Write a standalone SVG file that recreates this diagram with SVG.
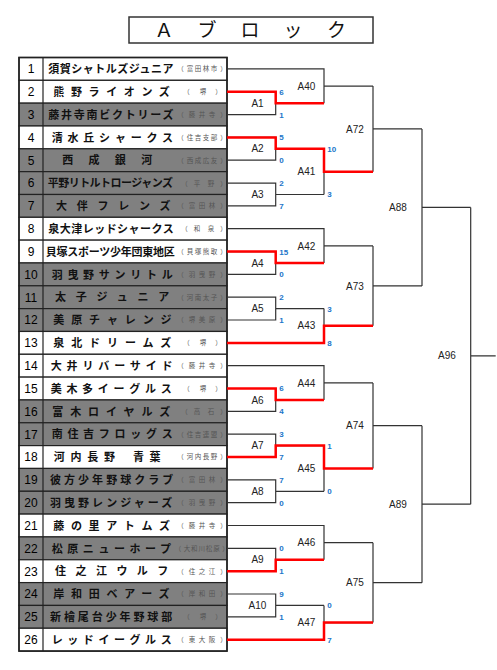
<svg xmlns="http://www.w3.org/2000/svg" width="497" height="670" viewBox="0 0 497 670">
<style>
.bg{fill:#fff}
.rw{fill:#fff;stroke:#222;stroke-width:1.2}
.rg{fill:#808080;stroke:#222;stroke-width:1.2}
.num{font-family:"Liberation Sans",Arial,sans-serif;font-size:12px;text-anchor:middle;fill:#000}
.name{font-family:"Noto Sans CJK JP","Noto Sans",sans-serif;font-size:11px;font-weight:bold;fill:#111}
.sub{font-family:"Noto Sans CJK JP","Noto Sans",sans-serif;font-size:6.5px;text-anchor:middle;fill:#555}
.lbl{font-family:"Liberation Sans",Arial,sans-serif;font-size:10px;text-anchor:middle;fill:#222}
.sc{font-family:"Liberation Sans",Arial,sans-serif;font-size:8px;font-weight:bold;fill:#1b75c9}
.ln{fill:none;stroke:#333;stroke-width:1.2}
.win{fill:none;stroke:#f00;stroke-width:2.5}
.title{font-family:"Noto Sans CJK JP","Noto Sans",sans-serif;font-size:19px;text-anchor:middle;fill:#111}
</style>
<rect class="bg" x="0" y="0" width="497" height="670"/>
<g id="title">
<rect x="129" y="17" width="244" height="26" fill="#fff" stroke="#333" stroke-width="1.5"/>
<text class="title" x="164 207 250 293 336.5" y="37">Ａブロック</text>
</g>
<g id="teams">
<g id="team-1"><rect class="rw" x="19" y="57.5" width="208" height="22.83"/><text class="num" x="31" y="73.2">1</text><text class="name" x="48.3" y="73.1" style="letter-spacing:0.5px">須賀シャトルズジュニア</text><text class="sub" x="180.4 190 198 206 214 223.6" y="71.3">（富田林市）</text></g>
<g id="team-2"><rect class="rw" x="19" y="80.33" width="208" height="22.83"/><text class="num" x="31" y="96">2</text><text class="name" x="53.3" y="95.9" style="letter-spacing:6.62px">熊野ライオンズ</text><text class="sub" x="186.4 203 218.6" y="94.1">（堺）</text></g>
<g id="team-3"><rect class="rg" x="19" y="103.16" width="208" height="22.83"/><text class="num" x="31" y="118.9">3</text><text class="name" x="48.3" y="118.8" style="letter-spacing:1.74px">藤井寺南ビクトリーズ</text><text class="sub" x="180.4 192 202 212 223.6" y="117">（藤井寺）</text></g>
<g id="team-4"><rect class="rw" x="19" y="125.99" width="208" height="22.83"/><text class="num" x="31" y="141.7">4</text><text class="name" x="51.7" y="141.6" style="letter-spacing:4.8px">清水丘シャークス</text><text class="sub" x="180.4 190 198 206 214 223.6" y="139.8">（住吉支部）</text></g>
<g id="team-5"><rect class="rg" x="19" y="148.82" width="208" height="22.83"/><text class="num" x="31" y="164.5">5</text><text class="name" x="67.7 94 120.3 146.7" y="164.4" text-anchor="middle">西成銀河</text><text class="sub" x="180.4 190 198 206 214 223.6" y="162.6">（西成広友）</text></g>
<g id="team-6"><rect class="rg" x="19" y="171.65" width="208" height="22.83"/><text class="num" x="31" y="187.4">6</text><text class="name" x="47.7" y="187.3" style="letter-spacing:-0.52px">平野リトルトロージャンズ</text><text class="sub" x="184.4 197 211 223.6" y="185.5">（平野）</text></g>
<g id="team-7"><rect class="rg" x="19" y="194.48" width="208" height="22.83"/><text class="num" x="31" y="210.2">7</text><text class="name" x="56" y="210.1" style="letter-spacing:9.74px">大伴フレンズ</text><text class="sub" x="180.4 192 202 212 223.6" y="208.3">（富田林）</text></g>
<g id="team-8"><rect class="rw" x="19" y="217.31" width="208" height="22.83"/><text class="num" x="31" y="233">8</text><text class="name" x="48.3" y="232.9" style="letter-spacing:0.47px">泉大津レッドシャークス</text><text class="sub" x="184.4 197 211 223.6" y="231.1">（和泉）</text></g>
<g id="team-9"><rect class="rw" x="19" y="240.14" width="208" height="22.83"/><text class="num" x="31" y="255.9">9</text><text class="name" x="45.7" y="255.8" style="letter-spacing:-0.25px">貝塚スポーツ少年団東地区</text><text class="sub" x="180.4 190 198 206 214 223.6" y="254">（貝塚熊取）</text></g>
<g id="team-10"><rect class="rg" x="19" y="262.97" width="208" height="22.83"/><text class="num" x="31" y="278.7">10</text><text class="name" x="51.7" y="278.6" style="letter-spacing:4.71px">羽曳野サンリトル</text><text class="sub" x="180.4 192 202 212 223.6" y="276.8">（羽曳野）</text></g>
<g id="team-11"><rect class="rg" x="19" y="285.8" width="208" height="22.83"/><text class="num" x="31" y="301.5">11</text><text class="name" x="55" y="301.4" style="letter-spacing:9.8px">太子ジュニア</text><text class="sub" x="180.4 190 198 206 214 223.6" y="299.6">（河南太子）</text></g>
<g id="team-12"><rect class="rg" x="19" y="308.63" width="208" height="22.83"/><text class="num" x="31" y="324.3">12</text><text class="name" x="53.3" y="324.2" style="letter-spacing:6.9px">美原チャレンジ</text><text class="sub" x="180.4 192 202 212 223.6" y="322.4">（堺美原）</text></g>
<g id="team-13"><rect class="rw" x="19" y="331.46" width="208" height="22.83"/><text class="num" x="31" y="347.2">13</text><text class="name" x="53.3" y="347.1" style="letter-spacing:6.9px">泉北ドリームズ</text><text class="sub" x="186.4 203 218.6" y="345.3">（堺）</text></g>
<g id="team-14"><rect class="rw" x="19" y="354.29" width="208" height="22.83"/><text class="num" x="31" y="370">14</text><text class="name" x="50.7" y="369.9" style="letter-spacing:4.86px">大井リバーサイド</text><text class="sub" x="180.4 192 202 212 223.6" y="368.1">（藤井寺）</text></g>
<g id="team-15"><rect class="rw" x="19" y="377.12" width="208" height="22.83"/><text class="num" x="31" y="392.8">15</text><text class="name" x="50.7" y="392.7" style="letter-spacing:4.71px">美木多イーグルス</text><text class="sub" x="186.4 203 218.6" y="390.9">（堺）</text></g>
<g id="team-16"><rect class="rg" x="19" y="399.95" width="208" height="22.83"/><text class="num" x="31" y="415.7">16</text><text class="name" x="52.3" y="415.6" style="letter-spacing:6.9px">富木ロイヤルズ</text><text class="sub" x="184.4 197 211 223.6" y="413.8">（高石）</text></g>
<g id="team-17"><rect class="rg" x="19" y="422.78" width="208" height="22.83"/><text class="num" x="31" y="438.5">17</text><text class="name" x="51.7" y="438.4" style="letter-spacing:4.71px">南住吉フロッグス</text><text class="sub" x="180.4 190 198 206 214 223.6" y="436.6">（住吉連盟）</text></g>
<g id="team-18"><rect class="rw" x="19" y="445.61" width="208" height="22.83"/><text class="num" x="31" y="461.3">18</text><text class="name" x="59.3 76 92.7 109.5 124 138.5 155" y="461.2" text-anchor="middle">河内長野　青葉</text><text class="sub" x="180.4 190 198 206 214 223.6" y="459.4">（河内長野）</text></g>
<g id="team-19"><rect class="rg" x="19" y="468.44" width="208" height="22.83"/><text class="num" x="31" y="484.2">19</text><text class="name" x="50" y="484.1" style="letter-spacing:3.04px">彼方少年野球クラブ</text><text class="sub" x="180.4 192 202 212 223.6" y="482.3">（富田林）</text></g>
<g id="team-20"><rect class="rg" x="19" y="491.27" width="208" height="22.83"/><text class="num" x="31" y="507">20</text><text class="name" x="50" y="506.9" style="letter-spacing:3.04px">羽曳野レンジャーズ</text><text class="sub" x="180.4 192 202 212 223.6" y="505.1">（羽曳野）</text></g>
<g id="team-21"><rect class="rw" x="19" y="514.1" width="208" height="22.83"/><text class="num" x="31" y="529.8">21</text><text class="name" x="53.3" y="529.7" style="letter-spacing:6.62px">藤の里アトムズ</text><text class="sub" x="180.4 192 202 212 223.6" y="527.9">（藤井寺）</text></g>
<g id="team-22"><rect class="rg" x="19" y="536.93" width="208" height="22.83"/><text class="num" x="31" y="552.6">22</text><text class="name" x="51.7" y="552.5" style="letter-spacing:4.57px">松原ニューホープ</text><text class="sub" x="177.9 186.9 194.3 201.7 209.1 216.5 225.6" y="550.7">（大和川松原）</text></g>
<g id="team-23"><rect class="rw" x="19" y="559.76" width="208" height="22.83"/><text class="num" x="31" y="575.5">23</text><text class="name" x="55" y="575.4" style="letter-spacing:9.46px">住之江ウルフ</text><text class="sub" x="180.4 192 202 212 223.6" y="573.6">（住之江）</text></g>
<g id="team-24"><rect class="rg" x="19" y="582.59" width="208" height="22.83"/><text class="num" x="31" y="598.3">24</text><text class="name" x="53.3" y="598.2" style="letter-spacing:6.73px">岸和田ベアーズ</text><text class="sub" x="180.4 192 202 212 223.6" y="596.4">（岸和田）</text></g>
<g id="team-25"><rect class="rg" x="19" y="605.42" width="208" height="22.83"/><text class="num" x="31" y="621.1">25</text><text class="name" x="50" y="621" style="letter-spacing:2.91px">新檜尾台少年野球部</text><text class="sub" x="186.4 203 218.6" y="619.2">（堺）</text></g>
<g id="team-26"><rect class="rw" x="19" y="628.25" width="208" height="22.83"/><text class="num" x="31" y="644">26</text><text class="name" x="51.7" y="643.9" style="letter-spacing:4.57px">レッドイーグルス</text><text class="sub" x="180.4 192 202 212 223.6" y="642.1">（東大阪）</text></g>
<line x1="43" y1="57.5" x2="43" y2="651.08" stroke="#222" stroke-width="1.2"/>
<rect x="19" y="57.5" width="208" height="593.58" fill="none" stroke="#222" stroke-width="1.6"/>
</g>
<g id="connectors">
<path class="ln" d="M227 91.7H275.7V114.6H227M275.7 103.2H324
M227 137.4H275.7V160.2H227M275.7 148.8H324
M227 183.1H275.7V205.9H227M275.7 194.5H324
M227 251.6H275.7V274.4H227M275.7 263H324
M227 297.2H275.7V320H227M275.7 308.6H324
M227 388.5H275.7V411.4H227M275.7 400H324
M227 434.2H275.7V457H227M275.7 445.6H324
M227 479.9H275.7V502.7H227M275.7 491.3H324
M227 548.3H275.7V571.2H227M275.7 559.8H324
M227 594H275.7V616.8H227M275.7 605.4H324
M227 68.9H324V103.2M324 86.1H373
M324 148.8V194.5M324 171.7H373
M227 228.7H324V263M324 245.9H373
M227 342.9H324V308.6M324 325.8H373
M227 365.7H324V400M324 382.9H373
M324 445.6V491.3M324 468.5H373
M227 525.5H324V559.8M324 542.7H373
M227 639.7H324V605.4M324 622.6H373
M373 86.1V171.7M373 128.9H422
M373 245.9V325.8M373 285.9H422
M373 382.9V468.5M373 425.7H422
M373 542.7V622.6M373 582.7H422
M422 128.9V285.9M422 207.4H470.7
M422 425.7V582.7M422 504.2H470.7
M470.7 207.4V504.2M470.7 355.8H495.7"/>
<path class="win" d="M227 91.7H275.7V103.2H324
M227 137.4H275.7V148.8H324V171.7H373
M227 251.6H275.7V263H324
M227 342.9H324V325.8H373
M227 388.5H275.7V400H324
M227 457H275.7V445.6H324V468.5H373
M227 571.2H275.7V559.8H324
M227 639.7H324V622.6H373"/>
</g>
<g id="matches">
<g id="A1"><text class="lbl" x="257.5" y="106.8">A1</text><text class="sc" x="279.3" y="94.6">6</text><text class="sc" x="279.3" y="117.5">1</text></g>
<g id="A2"><text class="lbl" x="257.5" y="152.4">A2</text><text class="sc" x="279.3" y="140.3">5</text><text class="sc" x="279.3" y="163.1">0</text></g>
<g id="A3"><text class="lbl" x="257.5" y="198.1">A3</text><text class="sc" x="279.3" y="186">2</text><text class="sc" x="279.3" y="208.8">7</text></g>
<g id="A4"><text class="lbl" x="257.5" y="266.6">A4</text><text class="sc" x="279.3" y="254.5">15</text><text class="sc" x="279.3" y="277.3">0</text></g>
<g id="A5"><text class="lbl" x="257.5" y="312.2">A5</text><text class="sc" x="279.3" y="300.1">2</text><text class="sc" x="279.3" y="322.9">1</text></g>
<g id="A6"><text class="lbl" x="257.5" y="403.6">A6</text><text class="sc" x="279.3" y="391.4">6</text><text class="sc" x="279.3" y="414.3">4</text></g>
<g id="A7"><text class="lbl" x="257.5" y="449.2">A7</text><text class="sc" x="279.3" y="437.1">3</text><text class="sc" x="279.3" y="459.9">7</text></g>
<g id="A8"><text class="lbl" x="257.5" y="494.9">A8</text><text class="sc" x="279.3" y="482.8">7</text><text class="sc" x="279.3" y="505.6">0</text></g>
<g id="A9"><text class="lbl" x="257.5" y="563.4">A9</text><text class="sc" x="279.3" y="551.2">0</text><text class="sc" x="279.3" y="574.1">1</text></g>
<g id="A10"><text class="lbl" x="257.5" y="609">A10</text><text class="sc" x="279.3" y="596.9">9</text><text class="sc" x="279.3" y="619.7">1</text></g>
<g id="A40"><text class="lbl" x="306.5" y="89.7">A40</text></g>
<g id="A41"><text class="lbl" x="306.5" y="175.3">A41</text><text class="sc" x="327.3" y="151.7">10</text><text class="sc" x="327.3" y="197.4">3</text></g>
<g id="A42"><text class="lbl" x="306.5" y="249.5">A42</text></g>
<g id="A43"><text class="lbl" x="306.5" y="329.4">A43</text><text class="sc" x="327.3" y="311.5">3</text><text class="sc" x="327.3" y="345.8">8</text></g>
<g id="A44"><text class="lbl" x="306.5" y="386.5">A44</text></g>
<g id="A45"><text class="lbl" x="306.5" y="472.1">A45</text><text class="sc" x="327.3" y="448.5">1</text><text class="sc" x="327.3" y="494.2">0</text></g>
<g id="A46"><text class="lbl" x="306.5" y="546.3">A46</text></g>
<g id="A47"><text class="lbl" x="306.5" y="626.2">A47</text><text class="sc" x="327.3" y="608.3">0</text><text class="sc" x="327.3" y="642.6">7</text></g>
<g id="A72"><text class="lbl" x="355" y="132.5">A72</text></g>
<g id="A73"><text class="lbl" x="355" y="289.5">A73</text></g>
<g id="A74"><text class="lbl" x="355" y="429.3">A74</text></g>
<g id="A75"><text class="lbl" x="355" y="586.3">A75</text></g>
<g id="A88"><text class="lbl" x="398" y="211">A88</text></g>
<g id="A89"><text class="lbl" x="398" y="507.8">A89</text></g>
<g id="A96"><text class="lbl" x="447" y="359.4">A96</text></g>
</g>
</svg>
